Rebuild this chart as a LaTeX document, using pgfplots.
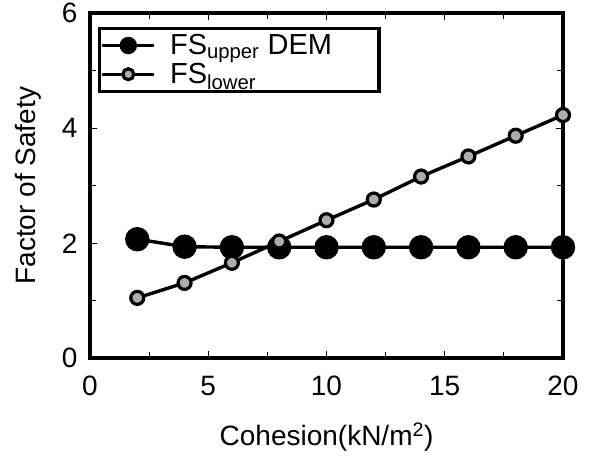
\documentclass[border=0pt]{standalone}
\usepackage{pgfplots}
\pgfplotsset{compat=1.18}
\usepackage{fontspec}
\setmainfont{Liberation Sans}
\definecolor{stip}{gray}{0.68}

\begin{document}
\begin{tikzpicture}
\begin{axis}[
  scale only axis,
  width=473pt, height=345pt,
  xmin=0, xmax=20, ymin=0, ymax=6,
  xtick={0,5,10,15,20}, ytick={0,2,4,6},
  minor xtick={2.5,7.5,12.5,17.5}, minor ytick={1,3,5},
  tick align=inside,
  major tick length=7pt, minor tick length=6pt,
  axis line style={line width=3.8pt},
  tick style={line width=1.2pt, black},
  ticklabel style={font=\fontsize{28}{32}\selectfont},
  /pgf/number format/assume math mode=true,
  xticklabel style={yshift=-14pt},
  yticklabel style={xshift=-9pt},
  xlabel={Cohesion(kN/m\textsuperscript{2})},
  ylabel={Factor of Safety},
  label style={font=\fontsize{28}{32}\selectfont},
  xlabel style={yshift=-20pt},
  ylabel style={yshift=14pt},
  legend style={at={(rel axis cs:0.017,0.96)}, anchor=north west,
    line width=3.2pt, draw=black, inner xsep=1pt, inner ysep=4pt,
    font=\fontsize{29}{32}\selectfont, row sep=3pt,
    cells={anchor=west}},
  legend image code/.code={
    \draw[mark repeat=2, mark phase=2] plot coordinates {(4pt,0pt) (30pt,0pt) (56pt,0pt)};},
  legend cell align=left,
  clip=false,
]
\addplot[black, line width=3.4pt, mark=*, mark size=10.5pt,
  mark options={fill=black, draw=black},
  legend image post style={mark size=7pt}]
  coordinates {(2,2.07) (4,1.94) (6,1.93) (8,1.93) (10,1.93) (12,1.93)
               (14,1.93) (16,1.93) (18,1.93) (20,1.93)};
\addlegendentry{\hspace{12pt}FS\textsubscript{upper} DEM\kern44pt}
\addplot[black, line width=3.4pt, mark=*, mark size=6.5pt,
  mark options={fill=stip, draw=black, line width=3.2pt},
  legend image post style={mark size=5.5pt}]
  coordinates {(2,1.05) (4,1.31) (6,1.66) (8,2.03) (10,2.40) (12,2.76)
               (14,3.16) (16,3.51) (18,3.87) (20,4.23)};
\addlegendentry{\hspace{12pt}FS\textsubscript{lower}}
\end{axis}
\useasboundingbox (-90pt,-100pt) rectangle (500pt,358pt);
\end{tikzpicture}
\end{document}
